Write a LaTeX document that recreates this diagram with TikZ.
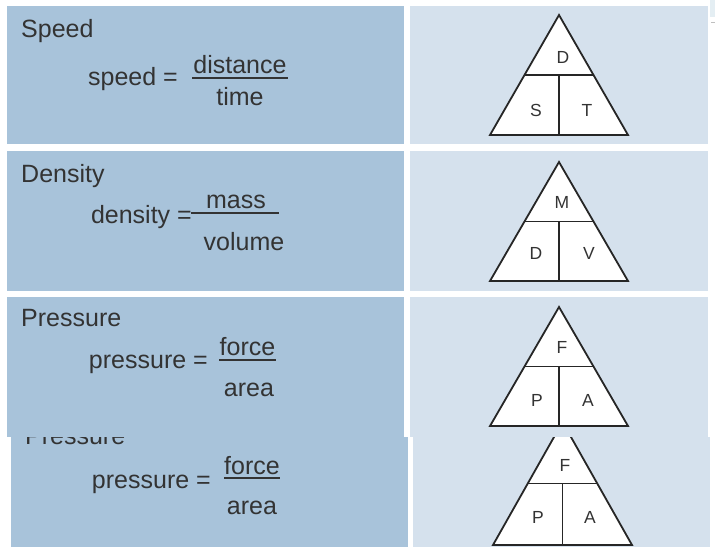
\documentclass[tikz,border=0pt]{standalone}
\usepackage{fontspec}
\setmainfont{Liberation Sans}
\usepackage{xcolor}
\usetikzlibrary{positioning}
\definecolor{panelL}{HTML}{A8C3DA}
\definecolor{panelR}{HTML}{D5E1ED}
\definecolor{ink}{HTML}{333333}
\definecolor{faint}{HTML}{E4EEF3}

\begin{document}
\begin{tikzpicture}[x=1pt, y=-1pt,
    lpanel/.style={fill=panelL, draw=none},
    rpanel/.style={fill=panelR, draw=none},
    title/.style={anchor=base west, inner sep=0pt, text=ink,
                  font=\fontsize{25}{29}\selectfont},
    eqn/.style={inner sep=0pt, text=ink, font=\fontsize{25}{29}\selectfont},
    bar/.style={draw=ink, line width=1.3pt},
    tri/.style={fill=white, draw=black!85, line width=1.8pt, line join=miter},
    letter/.style={inner sep=0pt, text=ink, font=\fontsize{17.5}{20}\selectfont}
  ]
  \useasboundingbox (0,0) rectangle (715,547);
  % faint edge marks
  \fill[faint] (710,0) rectangle (715,17);
  \draw[black!25, line width=0.8pt] (711,22) -- (715,22);

  % Speed
  \fill[lpanel] (7,6) rectangle (404,144);
  \fill[rpanel] (410,6) rectangle (708,144);
  \node[title] (spdTitle) at (21,37) {Speed};
  \node[eqn, anchor=base east] (spdLhs) at (178,85) {speed =};
  \node[eqn, anchor=base] (spdNum) at (240,73) {distance};
  \node[eqn, anchor=base] (spdDen) at (240,105) {time};
  \draw[bar] (192,78) -- (288,78);
  \draw[tri] (559,15) -- (628,135) -- (490,135) -- cycle;
  \draw[tri] (524.5,75) -- (593.5,75) (559,75) -- (559,135);
  \node[letter] (spdD) at (563,57) {D};
  \node[letter] (spdS) at (536,110) {S};
  \node[letter] (spdT) at (587,110) {T};

  % Density
  \fill[lpanel] (7,151) rectangle (404,291);
  \fill[rpanel] (410,151) rectangle (708,291);
  \node[title] (denTitle) at (21,182) {Density};
  \node[eqn, anchor=base east] (denLhs) at (192,223) {density =};
  \node[eqn, anchor=base] (denNum) at (236,208) {mass};
  \node[eqn, anchor=base] (denDen) at (244,250) {volume};
  \draw[bar] (191,213) -- (279,213);
  \draw[tri] (559,162) -- (628,281) -- (490,281) -- cycle;
  \draw[tri] (524.5,221.5) -- (593.5,221.5) (559,221.5) -- (559,281);
  \node[letter] (denM) at (562,202) {M};
  \node[letter] (denD) at (536,253) {D};
  \node[letter] (denV) at (589,253) {V};

  % Pressure
  \fill[lpanel] (7,297) rectangle (404,437);
  \fill[rpanel] (410,297) rectangle (708,437);
  \node[title] (preTitle) at (21,326) {Pressure};
  \node[eqn, anchor=base east] (preLhs) at (208,368) {pressure =};
  \node[eqn, anchor=base] (preNum) at (247.5,355) {force};
  \node[eqn, anchor=base] (preDen) at (249,396) {area};
  \draw[bar] (219,360) -- (276,360);
  \draw[tri] (559,307) -- (628,426) -- (490,426) -- cycle;
  \draw[tri] (524.5,366.5) -- (593.5,366.5) (559,366.5) -- (559,426);
  \node[letter] (preF) at (562,347) {F};
  \node[letter] (preP) at (537,400) {P};
  \node[letter] (preA) at (588,400) {A};

  % Pressure again, cut off at the top
  \begin{scope}
    \clip (0,437) rectangle (715,547);
    \fill[lpanel] (11,437) rectangle (408,547);
    \fill[rpanel] (413,437) rectangle (710,547);
    \node[title] (pr2Title) at (25,444) {Pressure};
    \node[eqn, anchor=base east] (pr2Lhs) at (211,488) {pressure =};
    \node[eqn, anchor=base] (pr2Num) at (252,474) {force};
    \node[eqn, anchor=base] (pr2Den) at (252,514) {area};
    \draw[bar] (224,478) -- (280,478);
    \draw[tri] (562.5,422) -- (632,545) -- (493,545) -- cycle;
    \draw[tri] (527.75,483.5) -- (597.25,483.5) (562.5,483.5) -- (562.5,545);
    \node[letter] (pr2F) at (565,465) {F};
    \node[letter] (pr2P) at (538,517) {P};
    \node[letter] (pr2A) at (590,517) {A};
  \end{scope}
\end{tikzpicture}
\end{document}
